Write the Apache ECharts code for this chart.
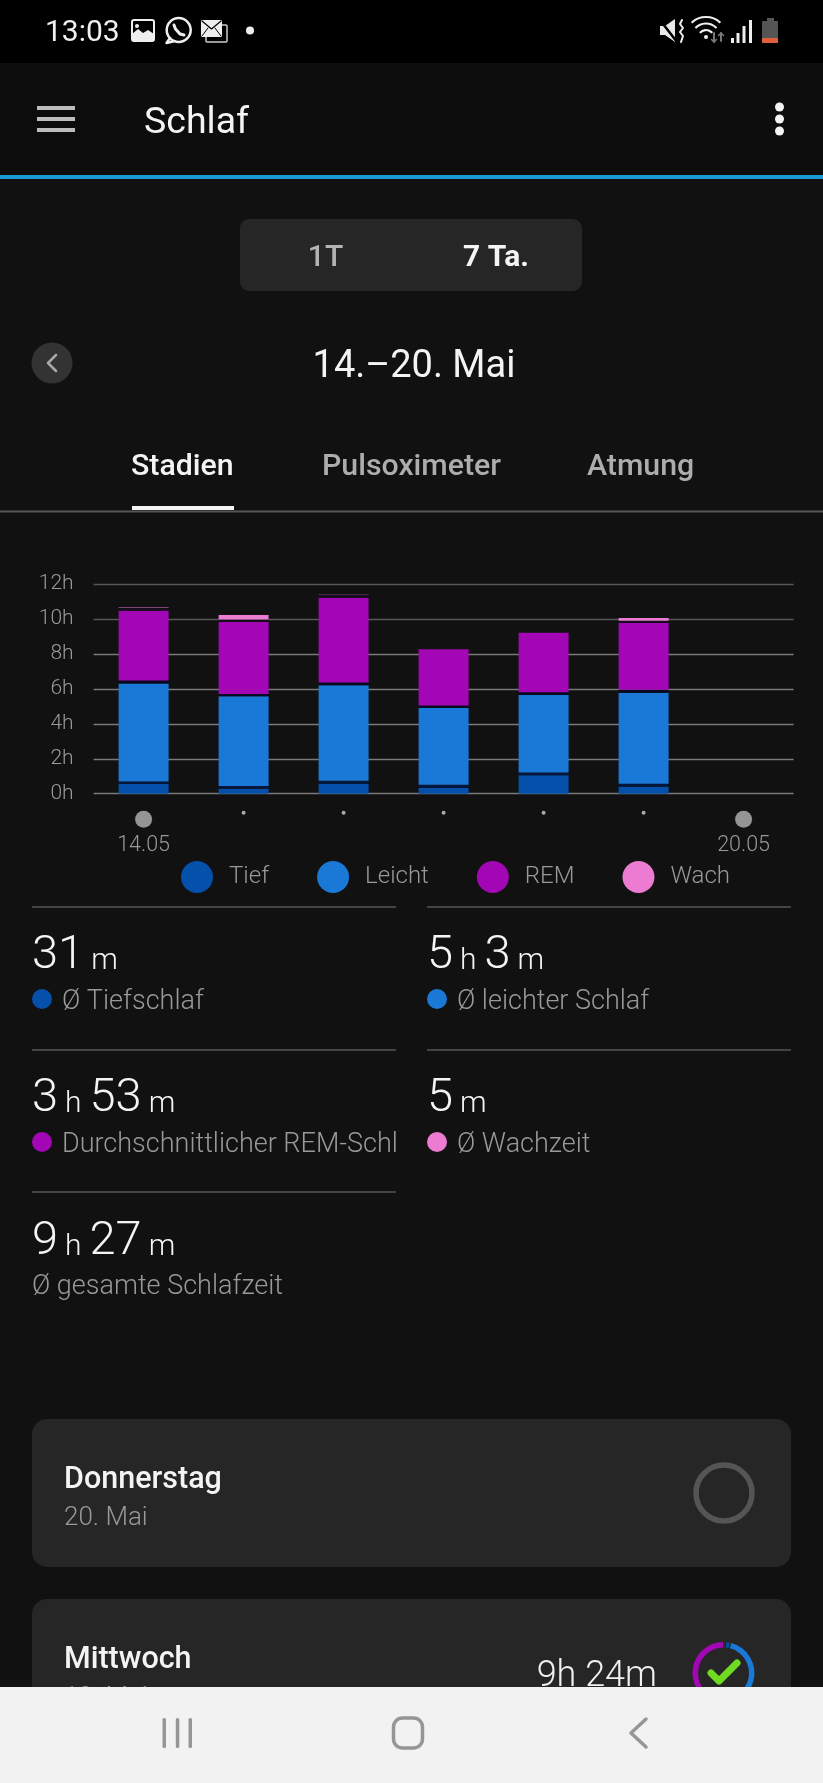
<!DOCTYPE html>
<html>
<head>
<meta charset="utf-8">
<title>Schlaf</title>
<script src="https://cdn.jsdelivr.net/npm/echarts@6/dist/echarts.min.js"></script>
<style>
	html, body { margin: 0; padding: 0; background: #111111; }
	#main { width: 823px; height: 1783px; }
</style>
</head>
<body>
<div id="main"></div>
<script>
// Schlaf, 7 Tage (Stunden, von unten nach oben gestapelt)
var days = ['14.05', '15.05', '16.05', '17.05', '18.05', '19.05', '20.05'];
var tief = [0.55, 0.29, 0.57, 0.32, 1.05, 0.40, null];
var gapTiefLeicht = [0.15, 0.15, 0.17, 0.19, 0.17, 0.17, null];
var leicht = [5.61, 5.13, 5.46, 4.39, 4.43, 5.21, null];
var gapLeichtRem = [0.17, 0.13, 0.17, 0.15, 0.15, 0.17, null];
var rem = [3.99, 4.12, 4.85, 3.21, 3.41, 3.82, null];
var gapRemWach = [0.17, 0.15, 0.15, null, null, 0.13, null];
var wach = [0.03, 0.25, 0.015, null, null, 0.15, null];
var yTicks = [0, 2, 4, 6, 8, 10, 12];
// Ring Mittwoch
var ringNames = ['Tief', 'Leicht', 'REM', 'Wach'];
var ringValues = [9, 172, 166, 3];

var COLORS = { tief: '#0450ab', leicht: '#1a78d6', rem: '#a306b5', wach: '#ec7bd2' };
var FONT = 'Roboto';
var TEXT_DY = 3;

function rect(x, y, w, h, fill, r, z) {
	return { type: 'rect', z: z || 0, silent: true, shape: { x: x, y: y, width: w, height: h, r: r || 0 }, style: { fill: fill } };
}
function circle(cx, cy, r, fill, z) {
	return { type: 'circle', z: z || 0, silent: true, shape: { cx: cx, cy: cy, r: r }, style: { fill: fill } };
}
function ring(cx, cy, r, stroke, width) {
	return { type: 'circle', silent: true, shape: { cx: cx, cy: cy, r: r }, style: { fill: 'none', stroke: stroke, lineWidth: width } };
}
function poly(points, stroke, width, z) {
	return { type: 'polyline', z: z || 0, silent: true, shape: { points: points }, style: { fill: 'none', stroke: stroke, lineWidth: width, lineCap: 'round', lineJoin: 'round' } };
}
function shape(points, fill) {
	return { type: 'polygon', silent: true, shape: { points: points }, style: { fill: fill } };
}
function arc(cx, cy, r, a0, a1, stroke, width) {
	return { type: 'arc', silent: true, shape: { cx: cx, cy: cy, r: r, startAngle: a0, endAngle: a1 }, style: { fill: 'none', stroke: stroke, lineWidth: width } };
}
function txt(x, y, text, size, color, weight, align, z) {
	return {
		type: 'text', z: z || 1, silent: true, x: x, y: y + TEXT_DY,
		style: {
			text: text, fontFamily: FONT, fontSize: size, fontWeight: weight || 400, fill: color,
			align: align || 'left', verticalAlign: 'middle'
		}
	};
}
// Wert wie "3 h 53 m": Zahl gross, Einheit klein
function statValue(x, y, parts) {
	var s = '';
	parts.forEach(function (p, i) {
		s += (i % 2 == 0 ? '{a|' : '{u|') + p + '}';
	});
	return {
		type: 'text', z: 1, silent: true, x: x, y: y,
		style: {
			text: s, align: 'left', verticalAlign: 'bottom', fill: '#fff',
			rich: {
				a: { fontFamily: FONT, fontSize: 47, fontWeight: 300, fill: '#f4f4f4', lineHeight: 56, verticalAlign: 'bottom' },
				u: { fontFamily: FONT, fontSize: 30, fontWeight: 300, fill: '#f4f4f4', lineHeight: 56, verticalAlign: 'bottom', padding: [0, 8, 4, 7] }
			}
		}
	};
}

var ui = [];
// Statusleiste
ui.push(rect(0, 0, 823, 63, '#000000'));
ui.push(txt(45, 30, '13:03', 30, '#f0f0f0', 400));
ui.push({ type: 'rect', silent: true, shape: { x: 132, y: 20, width: 22, height: 21, r: 2 }, style: { fill: 'none', stroke: '#eeeeee', lineWidth: 2 } });
ui.push(shape([[132, 41], [132, 34], [138, 29], [143, 33], [148, 30], [154, 34], [154, 41]], '#eeeeee'));
ui.push(circle(137, 26, 2, '#eeeeee'));
ui.push(ring(178.7, 30, 12, '#eeeeee', 2.5));
ui.push(poly([[170, 38], [166.5, 43], [173, 41.5]], '#eeeeee', 2.5));
ui.push(poly([[174, 25], [175.5, 29], [180, 34], [184, 35]], '#eeeeee', 3));
ui.push({ type: 'rect', silent: true, shape: { x: 206, y: 25, width: 21, height: 17, r: 1 }, style: { fill: 'none', stroke: '#cccccc', lineWidth: 1.5 } });
ui.push(rect(201, 20, 21, 17, '#eeeeee', 1));
ui.push(poly([[202, 21], [211.5, 29], [221, 21]], '#000', 1.2));
ui.push(poly([[202, 36], [208, 28]], '#000', 1));
ui.push(poly([[221, 36], [215, 28]], '#000', 1));
ui.push(circle(250, 30.5, 4, '#eeeeee'));

ui.push(shape([[660, 26], [665, 26], [675, 19], [675, 42], [665, 35], [660, 35]], '#e8e8e8'));
ui.push(poly([[660, 20], [677, 42]], '#000', 2.5));
ui.push(poly([[682, 20], [680, 24], [683, 28], [680, 32], [683, 36], [681, 42]], '#eeeeee', 2));
ui.push(arc(706, 38, 21, Math.PI * 1.26, Math.PI * 1.74, '#eeeeee', 2.2));
ui.push(arc(706, 38, 14.5, Math.PI * 1.24, Math.PI * 1.76, '#eeeeee', 2.2));
ui.push(arc(706, 38, 8, Math.PI * 1.22, Math.PI * 1.78, '#eeeeee', 2.2));
ui.push(circle(706, 37, 2, '#eeeeee'));
ui.push(poly([[714, 33], [714, 42]], '#777', 2));
ui.push(poly([[711.5, 39.5], [714, 42], [716.5, 39.5]], '#777', 1.5));
ui.push(poly([[721, 33], [721, 41]], '#777', 2));
ui.push(poly([[718.5, 35.5], [721, 33], [723.5, 35.5]], '#777', 1.5));
ui.push(rect(731, 38, 3, 5, '#eeeeee'));
ui.push(rect(736.5, 33, 3, 10, '#eeeeee'));
ui.push(rect(742.5, 26, 3, 17, '#eeeeee'));
ui.push(rect(749, 20, 3, 23, '#eeeeee'));
ui.push(rect(767, 18, 7, 4, '#555555'));
ui.push(rect(762, 21, 16, 22, '#555555', 1));
ui.push(rect(762, 38, 16, 5, '#e0603c', 1));

// Kopfzeile
ui.push(rect(0, 63, 823, 112, '#0d0d0d'));
ui.push(rect(37, 106, 38, 4, '#bdbdbd'));
ui.push(rect(37, 117, 38, 4, '#bdbdbd'));
ui.push(rect(37, 128, 38, 4, '#bdbdbd'));
ui.push(txt(144, 120.5, 'Schlaf', 37.5, '#f4f4f4', 400));
ui.push(circle(779.5, 107, 4.5, '#f4f4f4'));
ui.push(circle(779.5, 119, 4.5, '#f4f4f4'));
ui.push(circle(779.5, 131, 4.5, '#f4f4f4'));
ui.push(rect(0, 175, 823, 4, '#1b9ad6'));

// 1T / 7 Ta.
ui.push(rect(240, 219, 342, 72, '#262626', 9));
ui.push(txt(325.5, 255, '1T', 30, '#b4b4b4', 500, 'center'));
ui.push(txt(496, 255, '7 Ta.', 30, '#f4f4f4', 700, 'center'));

// Datum
ui.push(circle(52, 363, 20.5, '#333333'));
ui.push(poly([[56, 355], [48, 363], [56, 371]], '#a8a8a8', 2.5));
ui.push(txt(414, 364.5, '14.–20. Mai', 38, '#f4f4f4', 400, 'center'));

// Reiter
ui.push(txt(131, 464, 'Stadien', 30.3, '#f4f4f4', 500));
ui.push(txt(322, 464, 'Pulsoximeter', 30.3, '#adadad', 500));
ui.push(txt(587, 464, 'Atmung', 30.3, '#adadad', 500));
ui.push(rect(132, 506, 102, 4, '#f4f4f4'));
ui.push(rect(0, 510.5, 823, 2, '#555555'));

// Durchschnittswerte
ui.push(rect(32, 906, 364, 2, '#444444'));
ui.push(rect(427, 906, 364, 2, '#444444'));
ui.push(rect(32, 1049, 364, 2, '#444444'));
ui.push(rect(427, 1049, 364, 2, '#444444'));
ui.push(rect(32, 1191, 364, 2, '#444444'));

ui.push(statValue(32, 980, ['31', 'm']));
ui.push(circle(42, 999, 10, COLORS.tief));
ui.push(txt(62, 999, 'Ø Tiefschlaf', 27, '#999999', 300));
ui.push(statValue(427, 980, ['5', 'h', '3', 'm']));
ui.push(circle(437, 999, 10, COLORS.leicht));
ui.push(txt(457, 999, 'Ø leichter Schlaf', 27, '#999999', 300));

ui.push(statValue(32, 1123, ['3', 'h', '53', 'm']));
ui.push(circle(42, 1142, 10, COLORS.rem));
ui.push(txt(62, 1142, 'Durchschnittlicher REM-Schlaf', 27, '#999999', 300));
ui.push(rect(396, 1120, 30, 44, '#111111', 0, 2));
ui.push(statValue(427, 1123, ['5', 'm']));
ui.push(circle(437, 1142, 10, COLORS.wach, 3));
ui.push(txt(457, 1142, 'Ø Wachzeit', 27, '#999999', 300, 'left', 3));

ui.push(statValue(32, 1266, ['9', 'h', '27', 'm']));
ui.push(txt(32, 1284, 'Ø gesamte Schlafzeit', 27, '#999999', 300));

// Karten
ui.push(rect(32, 1419, 759, 148, '#262626', 15));
ui.push(txt(64, 1477, 'Donnerstag', 30.5, '#f4f4f4', 500));
ui.push(txt(64, 1515, '20. Mai', 26, '#999999', 300));
ui.push(ring(724, 1493, 28, '#555555', 5.5));

ui.push(rect(32, 1599, 759, 200, '#262626', 15));
ui.push(txt(64, 1657, 'Mittwoch', 30.5, '#f4f4f4', 500));
ui.push(txt(64, 1695, '19. Mai', 26, '#999999', 300));
ui.push(txt(657, 1674, '9h 24m', 36, '#f0f0f0', 300, 'right'));
ui.push(poly([[711, 1673], [719, 1681], [737, 1663]], '#6fdc22', 7, 3));

// Navigationsleiste
ui.push(rect(0, 1687, 823, 96, '#f2f2f2', 0, 100));
ui.push(rect(162.5, 1718, 3.5, 30, '#969696', 1.5, 101));
ui.push(rect(175.8, 1718, 3.5, 30, '#969696', 1.5, 101));
ui.push(rect(188.5, 1718, 3.5, 30, '#969696', 1.5, 101));
ui.push({ type: 'rect', z: 101, silent: true, shape: { x: 393.5, y: 1718, width: 29, height: 30, r: 9 }, style: { fill: 'none', stroke: '#969696', lineWidth: 3.5 } });
ui.push(poly([[646, 1719], [631, 1733], [646, 1747]], '#969696', 3.5, 101));

function stackBar(name, data, color) {
	return {
		name: name,
		type: 'bar',
		stack: 'schlaf',
		barWidth: 50,
		silent: true,
		itemStyle: { color: color },
		data: data
	};
}

var ringData = ringNames.map(function (n, i) {
	return { name: n, value: ringValues[i], itemStyle: { color: COLORS[n.toLowerCase()] } };
});

var option = {
	animation: false,
	backgroundColor: '#111111',
	textStyle: { fontFamily: FONT },
	grid: { left: 93.6, right: 29.4, top: 584, bottom: 989.3, containLabel: false },
	legend: {
		left: 181,
		top: 861,
		padding: 0,
		itemWidth: 32,
		itemHeight: 32,
		itemGap: 48,
		icon: 'circle',
		selectedMode: false,
		data: ['Tief', 'Leicht', 'REM', 'Wach'],
		textStyle: { color: '#999999', fontSize: 24, fontWeight: 300, fontFamily: FONT, padding: [10, 0, 0, 11] }
	},
	xAxis: {
		type: 'category',
		data: days,
		axisLine: { show: false },
		axisTick: { show: false },
		axisLabel: {
			interval: 0,
			margin: 17,
			formatter: function (v, i) {
				if (i == 0 || i == days.length - 1) {
					return '{big| }\n{t|' + v + '}';
				}
				return '{small| }';
			},
			rich: {
				big: { width: 17, height: 17, borderRadius: 9, backgroundColor: '#959595' },
				small: { width: 4, height: 4, borderRadius: 2, backgroundColor: '#aaaaaa', padding: 0 },
				t: { color: '#999999', fontSize: 21.5, fontWeight: 300, fontFamily: FONT, lineHeight: 35 }
			}
		}
	},
	yAxis: {
		type: 'value',
		min: yTicks[0],
		max: yTicks[yTicks.length - 1],
		interval: 2,
		axisLine: { show: false },
		axisTick: { show: false },
		axisLabel: { margin: 20, color: '#999999', fontSize: 21, fontWeight: 300, fontFamily: FONT, padding: [2, 0, 0, 0], formatter: '{value}h' },
		splitLine: {
			lineStyle: {
				width: 1.3,
				color: ['#7a7a7a', '#7a7a7a', '#7a7a7a', '#7a7a7a', '#7a7a7a', '#585858', '#585858']
			}
		}
	},
	series: [
		stackBar('Tief', tief, COLORS.tief),
		stackBar('gap1', gapTiefLeicht, '#04163a'),
		stackBar('Leicht', leicht, COLORS.leicht),
		stackBar('gap2', gapLeichtRem, '#080820'),
		stackBar('REM', rem, COLORS.rem),
		stackBar('gap3', gapRemWach, '#170b1e'),
		stackBar('Wach', wach, COLORS.wach),
		{
			name: 'Mittwoch',
			type: 'pie',
			z: 2,
			silent: true,
			center: [723.5, 1673],
			radius: [25.5, 31],
			startAngle: 86,
			padAngle: 3,
			label: { show: false },
			labelLine: { show: false },
			data: ringData
		}
	],
	graphic: { elements: ui }
};

var chart = echarts.init(document.getElementById('main'));
chart.setOption(option);
</script>
</body>
</html>
